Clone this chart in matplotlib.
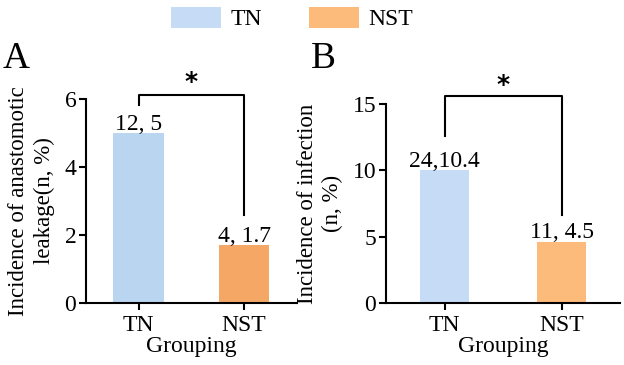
import matplotlib
matplotlib.use("Agg")
import matplotlib.pyplot as plt
from matplotlib.patches import Patch

plt.rcParams['font.family'] = ['Liberation Serif', 'DejaVu Serif']

groups = ["TN", "NST"]
leak_vals = [5.0, 1.7]
leak_labels = ["12, 5", "4, 1.7"]
inf_vals = [10.0, 4.6]
inf_labels = ["24,10.4", "11, 4.5"]

colA = ["#b9d5f0", "#f5a866"]
colB = ["#c6dcf6", "#fdbb7b"]

FS = 17
YFS = 16.5

fig = plt.figure(figsize=(6.24, 3.65), dpi=100)
axA = fig.add_axes([0.1378, 0.170, 0.338, 0.559])
axB = fig.add_axes([0.6186, 0.170, 0.375, 0.545])

def style(ax, ymax, yticks):
    ax.set_xlim(-0.5, 1.5)
    ax.set_ylim(0, ymax)
    ax.set_yticks(yticks)
    ax.set_xticks([0, 1])
    ax.set_xticklabels(groups)
    for s in ["top", "right"]:
        ax.spines[s].set_visible(False)
    for s in ["left", "bottom"]:
        ax.spines[s].set_linewidth(1.5)
    ax.tick_params(direction="out", length=5, width=1.5, labelsize=FS)
    ax.tick_params(axis="x", pad=4)
    ax.tick_params(axis="y", pad=2)
    ax.set_xlabel("Grouping", fontsize=FS, labelpad=0)

# Panel A
xs = [0, 1]
axA.bar(xs, leak_vals, width=0.48, color=colA)
for x, v, t in zip(xs, leak_vals, leak_labels):
    axA.text(x, v - 0.05, t, ha="center", va="bottom", fontsize=FS)
style(axA, 6, [0, 2, 4, 6])
axA.set_ylabel("Incidence of anastomotic\nleakage(n, %)", fontsize=YFS, labelpad=7, linespacing=1.25)
axA.plot([0, 0, 1, 1], [5.82, 6.12, 6.12, 2.59], color="black", lw=1.5, clip_on=False)
axA.text(0.5, 6.5, "*", ha="center", va="center", fontsize=18, fontweight="bold", family="DejaVu Sans")
fig.text(0.005, 0.84, "A", fontsize=27, ha="left", va="center")

# Panel B
axB.bar(xs, inf_vals, width=0.42, color=colB)
for x, v, t in zip(xs, inf_vals, inf_labels):
    axB.text(x, v - 0.1, t, ha="center", va="bottom", fontsize=FS)
style(axB, 15, [0, 5, 10, 15])
axB.set_ylabel("Incidence of infection\n(n, %)", fontsize=YFS, labelpad=7, linespacing=1.25)
axB.plot([0, 0, 1, 1], [12.6, 15.6, 15.6, 6.63], color="black", lw=1.5, clip_on=False)
axB.text(0.5, 16.4, "*", ha="center", va="center", fontsize=18, fontweight="bold", family="DejaVu Sans")
fig.text(0.498, 0.84, "B", fontsize=27, ha="left", va="center")

handles = [Patch(facecolor=colB[0], label=groups[0]), Patch(facecolor=colB[1], label=groups[1])]
fig.legend(handles=handles, loc="upper center", bbox_to_anchor=(0.468, 1.04), ncol=2,
           frameon=False, fontsize=FS, handlelength=2.1, handleheight=1.0,
           columnspacing=2.0, handletextpad=0.4)

fig.savefig("out.png", dpi=100)
